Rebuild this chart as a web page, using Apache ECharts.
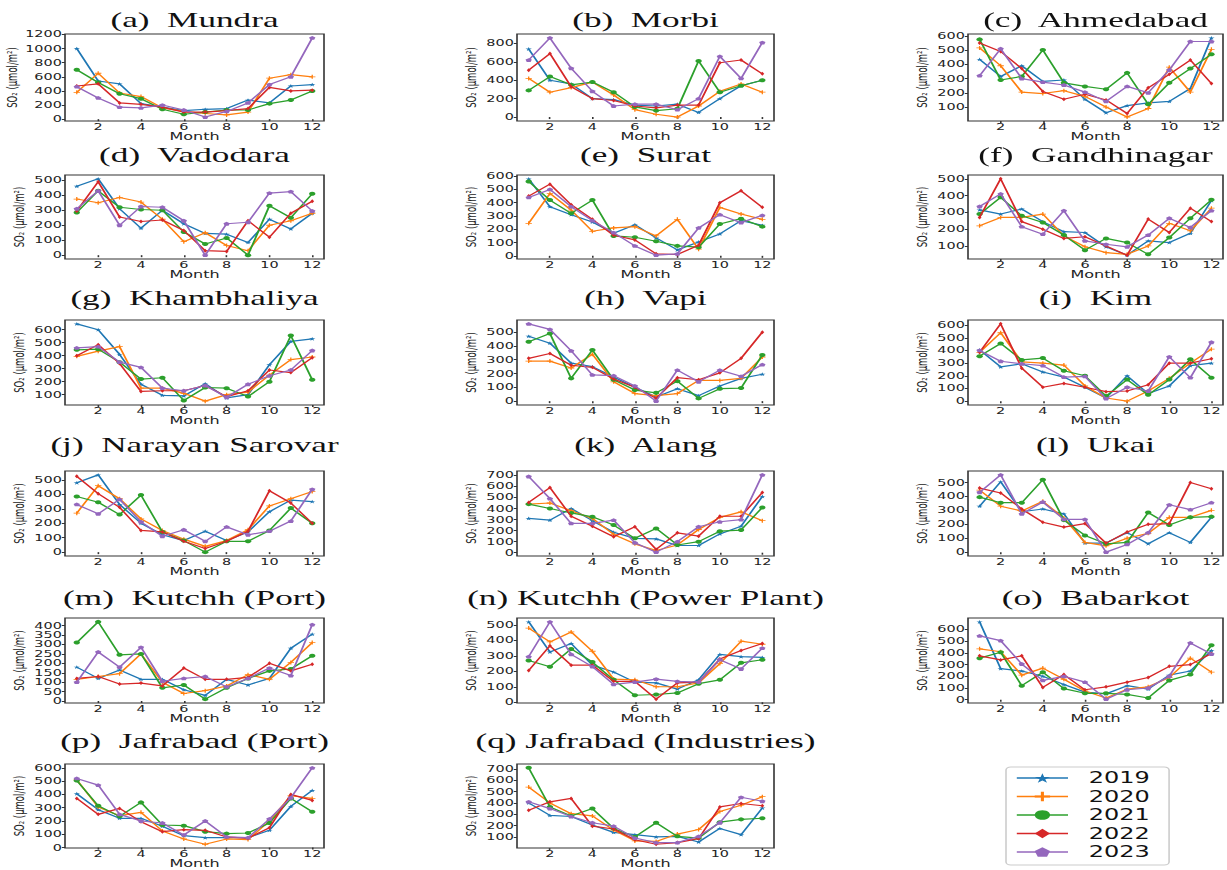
<!DOCTYPE html>
<html>
<head>
<meta charset="utf-8">
<title>SO2 monthly variation</title>
<script src="https://cdn.jsdelivr.net/npm/echarts@6.0.0/dist/echarts.min.js"></script>
<style>
  html, body { margin: 0; padding: 0; background: #fff; }
  #wrap { width: 1227px; height: 870px; overflow: hidden; position: relative; }
  /* the source figure is stretched horizontally, so draw narrow and stretch */
  #main { height: 870px; transform-origin: 0 0; }
</style>
</head>
<body>
<div id="wrap"><div id="main"></div></div>
<script>
const S = 1.6;
const W0 = 1227 / S;

const months = [1, 2, 3, 4, 5, 6, 7, 8, 9, 10, 11, 12];
const years = ['2019', '2020', '2021', '2022', '2023'];
const xTicks = [2, 4, 6, 8, 10, 12];

const titles = ['(a)  Mundra', '(b)  Morbi', '(c)  Ahmedabad', '(d)  Vadodara', '(e)  Surat',
  '(f)  Gandhinagar', '(g)  Khambhaliya', '(h)  Vapi', '(i)  Kim', '(j)  Narayan Sarovar',
  '(k)  Alang', '(l)  Ukai', '(m)  Kutchh (Port)', '(n) Kutchh (Power Plant)', '(o)  Babarkot',
  '(p)  Jafrabad (Port)', '(q) Jafrabad (Industries)'];

// rows: 2019, 2020, 2021, 2022, 2023 ; columns: Jan..Dec
const mundra = [
  [1000, 540, 500, 220, 170, 120, 140, 150, 270, 230, 470, 490],
  [380, 650, 370, 320, 160, 110, 80, 60, 100, 580, 630, 600],
  [700, 520, 360, 290, 140, 70, 100, 130, 130, 220, 270, 400],
  [470, 500, 230, 210, 170, 100, 100, 120, 150, 450, 400, 410],
  [460, 300, 170, 160, 200, 130, 30, 110, 230, 490, 600, 1150]
];
const morbi = [
  [740, 400, 360, 200, 190, 130, 120, 140, 50, 200, 340, 400],
  [420, 270, 320, 380, 240, 80, 30, 0, 120, 280, 360, 270],
  [290, 440, 350, 380, 270, 110, 70, 90, 610, 270, 340, 400],
  [510, 690, 330, 200, 180, 120, 100, 130, 130, 590, 620, 470],
  [620, 860, 530, 280, 120, 140, 140, 80, 200, 660, 420, 810]
];
const ahmedabad = [
  [435, 315, 390, 280, 290, 155, 60, 110, 130, 140, 230, 585],
  [515, 390, 205, 195, 215, 175, 100, 30, 90, 380, 205, 505],
  [575, 290, 315, 500, 270, 245, 225, 340, 120, 270, 370, 470],
  [550, 490, 370, 210, 155, 190, 150, 55, 235, 330, 430, 265],
  [320, 510, 300, 275, 255, 205, 140, 245, 200, 360, 560, 560]
];
const vadodara = [
  [460, 510, 310, 180, 300, 210, 145, 140, 85, 240, 175, 280],
  [375, 350, 385, 355, 240, 90, 150, 65, 30, 200, 230, 280],
  [285, 430, 320, 305, 300, 155, 75, 115, 0, 330, 250, 410],
  [295, 490, 255, 225, 235, 165, 30, 25, 230, 120, 280, 360],
  [310, 430, 200, 325, 320, 230, 0, 210, 220, 415, 425, 295]
];
const surat = [
  [580, 370, 310, 255, 170, 235, 135, 45, 105, 165, 265, 230],
  [245, 470, 345, 185, 210, 220, 150, 275, 50, 365, 315, 275],
  [560, 420, 320, 420, 150, 140, 110, 75, 65, 240, 280, 220],
  [450, 540, 385, 275, 155, 120, 15, 10, 80, 400, 490, 365],
  [440, 500, 370, 265, 175, 75, 5, 15, 210, 310, 250, 305]
];
const gandhinagar = [
  [315, 290, 320, 245, 185, 180, 95, 45, 130, 120, 175, 370],
  [220, 270, 270, 290, 160, 95, 60, 50, 100, 235, 190, 325],
  [290, 390, 280, 240, 165, 75, 145, 120, 50, 150, 265, 375],
  [270, 500, 245, 200, 145, 155, 100, 45, 260, 180, 325, 245],
  [335, 410, 215, 170, 310, 130, 110, 95, 165, 265, 210, 310]
];
const khambhaliya = [
  [645, 600, 410, 180, 95, 90, 185, 75, 100, 330, 510, 530],
  [395, 435, 470, 150, 150, 110, 50, 100, 120, 250, 370, 390],
  [445, 450, 350, 220, 230, 55, 155, 150, 85, 200, 555, 215],
  [400, 485, 340, 125, 130, 130, 170, 85, 130, 290, 270, 385],
  [460, 470, 350, 310, 150, 130, 170, 80, 180, 245, 290, 440]
];
const vapi = [
  [470, 420, 275, 250, 175, 100, 30, 90, 40, 110, 165, 195],
  [290, 290, 240, 340, 140, 55, 40, 55, 150, 150, 165, 320],
  [430, 490, 165, 370, 155, 80, 60, 145, 20, 90, 95, 335],
  [310, 345, 260, 245, 160, 100, 20, 170, 155, 205, 310, 500],
  [560, 520, 365, 190, 185, 110, 0, 225, 140, 225, 180, 265]
];
const kim = [
  [405, 270, 295, 230, 190, 110, 25, 200, 60, 120, 280, 300],
  [385, 540, 310, 300, 285, 120, 25, 0, 80, 180, 300, 410],
  [355, 455, 325, 340, 240, 200, 40, 170, 50, 170, 330, 185],
  [385, 610, 260, 110, 140, 110, 75, 80, 130, 300, 300, 335],
  [400, 315, 295, 280, 190, 195, 20, 110, 80, 350, 185, 465]
];
const narayanSarovar = [
  [480, 535, 330, 200, 120, 80, 145, 80, 140, 280, 360, 350],
  [270, 460, 370, 230, 150, 90, 40, 80, 155, 320, 370, 420],
  [385, 345, 260, 395, 140, 80, 0, 75, 75, 150, 305, 200],
  [525, 405, 310, 150, 140, 75, 25, 75, 145, 425, 340, 200],
  [330, 265, 365, 210, 110, 155, 75, 175, 120, 145, 215, 435]
];
const alang = [
  [310, 295, 400, 290, 185, 130, 125, 65, 65, 170, 240, 510],
  [440, 450, 380, 310, 165, 80, 20, 70, 210, 320, 370, 290],
  [440, 400, 360, 325, 250, 130, 220, 70, 100, 195, 205, 410],
  [455, 590, 330, 240, 145, 235, 30, 180, 150, 330, 330, 545],
  [690, 490, 265, 265, 295, 90, 5, 100, 235, 280, 300, 705]
];
const ukai = [
  [330, 505, 290, 310, 275, 65, 65, 140, 60, 140, 70, 250],
  [445, 330, 295, 365, 245, 70, 45, 100, 135, 250, 250, 300],
  [395, 355, 355, 520, 230, 120, 60, 70, 285, 195, 250, 255],
  [460, 425, 310, 215, 180, 205, 65, 145, 200, 205, 500, 455],
  [430, 555, 275, 360, 235, 235, 0, 55, 140, 340, 305, 355]
];
const kutchhPort = [
  [180, 120, 165, 115, 115, 60, 30, 115, 85, 120, 280, 355],
  [115, 130, 145, 250, 100, 40, 55, 80, 140, 115, 205, 310],
  [310, 420, 245, 250, 70, 85, 10, 70, 120, 160, 170, 240],
  [120, 130, 90, 95, 80, 175, 115, 115, 125, 200, 160, 195],
  [100, 260, 180, 285, 105, 120, 130, 75, 120, 175, 135, 405]
];
const kutchhPower = [
  [520, 325, 380, 240, 195, 130, 125, 85, 145, 310, 295, 290],
  [480, 390, 455, 330, 150, 145, 100, 100, 125, 250, 395, 375],
  [270, 230, 345, 260, 145, 45, 50, 60, 120, 145, 255, 275],
  [205, 365, 240, 240, 135, 135, 20, 125, 130, 280, 335, 380],
  [295, 520, 310, 230, 115, 130, 150, 135, 130, 275, 215, 350]
];
const babarkot = [
  [665, 265, 245, 200, 130, 65, 50, 120, 90, 210, 245, 420],
  [435, 410, 210, 270, 175, 75, 15, 90, 110, 190, 355, 235],
  [355, 405, 120, 235, 95, 55, 55, 45, 15, 165, 215, 465],
  [375, 340, 375, 105, 215, 85, 110, 150, 190, 285, 300, 395],
  [545, 505, 305, 165, 200, 150, 5, 85, 100, 200, 485, 390]
];
const jafrabadPort = [
  [405, 285, 220, 220, 160, 90, 75, 75, 75, 130, 310, 430],
  [510, 305, 240, 265, 125, 65, 25, 65, 60, 200, 390, 370],
  [505, 315, 235, 340, 170, 165, 120, 105, 110, 185, 370, 270],
  [370, 250, 295, 195, 120, 135, 130, 80, 70, 150, 400, 355],
  [520, 470, 250, 200, 185, 95, 200, 80, 75, 215, 375, 600]
];
const jafrabadInd = [
  [400, 290, 280, 205, 140, 120, 100, 105, 55, 175, 120, 355],
  [540, 400, 305, 285, 160, 65, 60, 125, 165, 325, 380, 455],
  [710, 365, 285, 350, 175, 100, 225, 105, 90, 230, 255, 265],
  [335, 410, 440, 195, 170, 75, 35, 50, 85, 365, 395, 375],
  [410, 350, 280, 225, 195, 90, 50, 50, 105, 225, 450, 415]
];

const panels = [mundra, morbi, ahmedabad, vadodara, surat, gandhinagar, khambhaliya, vapi, kim,
  narayanSarovar, alang, ukai, kutchhPort, kutchhPower, babarkot, jafrabadPort, jafrabadInd];

const yTicks = [
  [0, 200, 400, 600, 800, 1000, 1200],
  [0, 200, 400, 600, 800],
  [100, 200, 300, 400, 500, 600],
  [0, 100, 200, 300, 400, 500],
  [0, 100, 200, 300, 400, 500, 600],
  [100, 200, 300, 400, 500],
  [100, 200, 300, 400, 500, 600],
  [0, 100, 200, 300, 400, 500],
  [0, 100, 200, 300, 400, 500, 600],
  [0, 100, 200, 300, 400, 500],
  [0, 100, 200, 300, 400, 500, 600, 700],
  [0, 100, 200, 300, 400, 500],
  [0, 50, 100, 150, 200, 250, 300, 350, 400],
  [0, 100, 200, 300, 400, 500],
  [0, 100, 200, 300, 400, 500, 600, 700],
  [0, 100, 200, 300, 400, 500, 600],
  [0, 100, 200, 300, 400, 500, 600, 700]
];

// layout in page pixels (x gets divided by S)
const colL = [65, 517, 968];
const colR = [324, 774, 1223];
const rowT = [34, 175, 320, 471, 618, 764];
const rowB = [121, 259, 405, 556, 703, 850];
const titleY = [20, 155, 298, 445, 598, 741];

const colors = ['#1f77b4', '#ff7f0e', '#2ca02c', '#d62728', '#9467bd'];
const symbols = [
  'path://M50,0L61,35H98L68,57L79,91L50,70L21,91L32,57L2,35H39Z',
  'path://M4,0H6V4H10V6H6V10H4V6H0V4H4Z',
  'circle',
  'path://M3,0L6,5L3,10L0,5Z',
  'path://M50,0L98,35L79,91H21L2,35Z'
];

const plain = function (v) { return String(v); };
const tickFont = { fontFamily: 'DejaVu Sans', fontSize: 9, color: '#222' };

const grid = [], xAxis = [], yAxis = [], title = [], series = [];

panels.forEach(function (p, i) {
  const r = Math.floor(i / 3), c = i % 3;
  const all = p.flat();
  const lo = Math.min.apply(null, all), hi = Math.max.apply(null, all);
  const pad = (hi - lo) * 0.05;

  grid.push({
    left: colL[c] / S, top: rowT[r],
    width: (colR[c] - colL[c]) / S, height: rowB[r] - rowT[r],
    show: true, borderColor: '#333', borderWidth: 1, backgroundColor: 'transparent'
  });
  xAxis.push({
    gridIndex: i, type: 'value', min: 0.45, max: 12.55,
    name: 'Month', nameLocation: 'middle', nameGap: 9,
    nameTextStyle: { fontFamily: 'DejaVu Sans', fontSize: 10, color: '#222' },
    axisLine: { show: false },
    axisTick: { show: true, length: 2, customValues: xTicks, lineStyle: { color: '#333' } },
    axisLabel: Object.assign({ customValues: xTicks, margin: 1, formatter: plain }, tickFont),
    splitLine: { show: false }
  });
  yAxis.push({
    gridIndex: i, type: 'value', min: lo - pad, max: hi + pad,
    name: 'SO₂ (μmol/m²)', nameLocation: 'middle', nameRotate: 90, nameGap: 24,
    nameTextStyle: { fontFamily: 'DejaVu Sans', fontSize: 8.5, color: '#222' },
    axisLine: { show: false },
    axisTick: { show: true, length: 2, customValues: yTicks[i], lineStyle: { color: '#333' } },
    axisLabel: Object.assign({ customValues: yTicks[i], margin: 2, formatter: plain }, tickFont),
    splitLine: { show: false }
  });
  title.push({
    text: titles[i], left: (colL[c] + colR[c]) / 2 / S, top: titleY[r] - 12,
    textAlign: 'center', padding: 0,
    textStyle: { fontFamily: 'Liberation Serif', fontSize: 22, fontWeight: 'normal', color: '#111' }
  });
  p.forEach(function (vals, k) {
    series.push({
      name: years[k], type: 'line', xAxisIndex: i, yAxisIndex: i,
      data: months.map(function (m, j) { return [m, vals[j]]; }),
      symbol: symbols[k], symbolSize: 4, symbolKeepAspect: true,
      color: colors[k], itemStyle: { color: colors[k] },
      lineStyle: { width: 1.2, color: colors[k] },
      z: 2 + k
    });
  });
});

const dom = document.getElementById('main');
dom.style.width = W0 + 'px';
dom.style.transform = 'scaleX(' + S + ')';
const chart = echarts.init(dom, null, { renderer: 'svg', width: W0, height: 870 });
chart.setOption({
  animation: false,
  backgroundColor: '#fff',
  title: title,
  grid: grid,
  xAxis: xAxis,
  yAxis: yAxis,
  legend: {
    orient: 'vertical', left: 1006 / S, top: 767,
    data: years, selectedMode: false,
    itemWidth: 32, itemHeight: 12, itemGap: 3.5,
    padding: [3.5, 12, 5.5, 6],
    borderColor: '#ccc', borderWidth: 1, borderRadius: 3, backgroundColor: '#fff',
    lineStyle: { width: 1.5 },
    textStyle: { fontFamily: 'DejaVu Sans', fontSize: 15, color: '#111', padding: [0, 0, 0, 8] }
  },
  series: series
});
</script>
</body>
</html>
